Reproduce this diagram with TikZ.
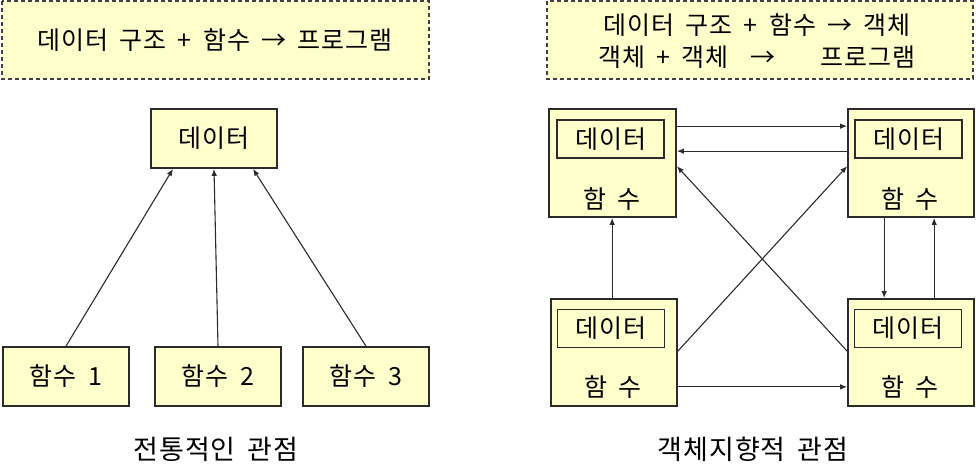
\documentclass[tikz,border=0pt]{standalone}
\usepackage{fontspec}
\setmainfont[WordSpace=1.7, LetterSpace=4]{Noto Sans CJK KR}
\usetikzlibrary{calc,arrows.meta}
\definecolor{memo}{HTML}{FFFFCC}
\definecolor{edge}{HTML}{2B2B2B}
\tikzset{
  memobox/.style={draw=edge!90, fill=memo, line width=1.2pt, dash pattern=on 4pt off 3pt},
  block/.style={draw=edge, fill=memo, line width=1.7pt, inner sep=0pt},
  datbox/.style={draw=edge, line width=1.7pt, inner sep=0pt, minimum width=107pt, minimum height=38pt},
  link/.style={draw=edge, line width=1.1pt, -{Latex[length=7pt,width=5.5pt]}},
  caption/.style={font=\fontsize{27}{32}\selectfont},
}

\begin{document}
\begin{tikzpicture}[x=1pt, y=-1pt, every node/.style={font=\fontsize{25}{30}\selectfont}]
		%%%%% START %%%%%
		\useasboundingbox (0, 0) rectangle (976, 463);
		
		% traditional view
		\draw[memobox] (2, 1) rectangle (429, 79);
		\node (memoL) at (215, 40) {데이터 구조 + 함수 → 프로그램};
		
		\node[block, minimum width=126pt, minimum height=59pt] (data) at (214, 138.5) {데이터};
		\node[block, minimum width=126pt, minimum height=59pt] (fn1) at (66, 376.5) {함수 1};
		\node[block, minimum width=126pt, minimum height=59pt] (fn2) at (218, 376.5) {함수 2};
		\node[block, minimum width=126pt, minimum height=59pt] (fn3) at (366, 376.5) {함수 3};
		
		\draw[link] (fn1.north) -- ($(data.south)+(-41, 0)$);
		\draw[link] (fn2.north) -- (data.south);
		\draw[link] (fn3.north) -- ($(data.south)+(39, 0)$);
		
		\node[caption] (capL) at (216, 449) {전통적인 관점};
		
		% object oriented view
		\draw[memobox] (547, 1) rectangle (973, 79);
		\node (memoR1) at (757, 25) {데이터 구조 + 함수 → 객체};
		\node (memoR2) at (757, 57) {객체 + 객체~~→~~~~프로그램};
		
		\node[block, minimum width=127pt, minimum height=108pt] (objTL) at (612.5, 163) {};
		\node[block, minimum width=126pt, minimum height=108pt] (objTR) at (911, 163) {};
		\node[block, minimum width=126pt, minimum height=107pt] (objBL) at (614, 352.5) {};
		\node[block, minimum width=126pt, minimum height=107pt] (objBR) at (911, 352.5) {};
		
		\node[datbox] (datTL) at (610.5, 139) {데이터};
		\node[datbox] (datTR) at (908.5, 139) {데이터};
		\node[datbox] (datBL) at (611, 328.5) {데이터};
		\node[datbox] (datBR) at (908, 328.5) {데이터};
		
		\node (fnTL) at (612, 199) {함 수};
		\node (fnTR) at (910, 199) {함 수};
		\node (fnBL) at (613, 387) {함 수};
		\node (fnBR) at (910, 387) {함 수};
		
		\draw[link] ($(objTL.north east)+(0, 18)$) -- ($(objTR.north west)+(0, 18)$);
		\draw[link] ($(objTR.north west)+(0, 43)$) -- ($(objTL.north east)+(0, 43)$);
		\draw[link] ($(objBL.north east)+(0, 53)$) -- ($(objTR.north west)+(0, 58)$);
		\draw[link] ($(objBR.north west)+(0, 53)$) -- ($(objTL.north east)+(0, 58)$);
		\draw[link] ($(objBL.south east)+(0, -20)$) -- ($(objBR.south west)+(0, -20)$);
		\draw[link] ($(objBL.north west)+(62, 0)$) -- ($(objTL.south west)+(64, 0)$);
		\draw[link] ($(objTR.south west)+(37, 0)$) -- ($(objBR.north west)+(37, 0)$);
		\draw[link] ($(objBR.north west)+(87, 0)$) -- ($(objTR.south west)+(87, 0)$);
		
		\node[caption] (capR) at (753, 449) {객체지향적 관점};
		%%%%% END %%%%%
	\end{tikzpicture}
\end{document}
